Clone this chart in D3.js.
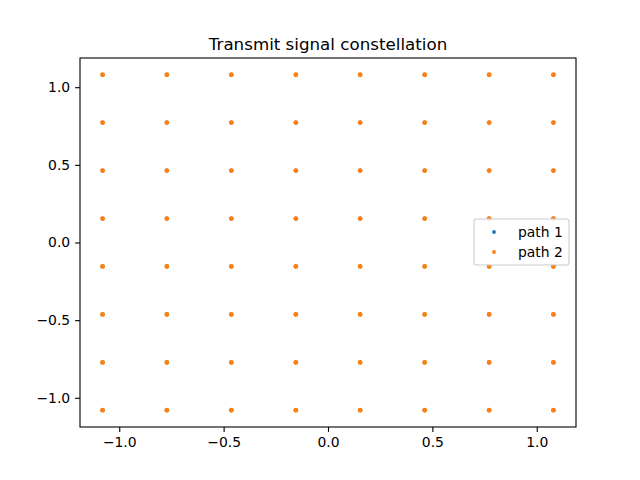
<!DOCTYPE html>
<html><head><meta charset="utf-8">
<script src="https://cdn.jsdelivr.net/npm/d3@7"></script>
<style>body{margin:0;background:#fff}svg{font-family:"DejaVu Sans",sans-serif}</style>
</head><body>
<script>
const title = "Transmit signal constellation";
const levels = [-1.080, -0.772, -0.463, -0.154, 0.154, 0.463, 0.772, 1.080];
const seriesNames = ["path 1", "path 2"];
const seriesColors = ["#1f77b4", "#ff7f0e"];
const xTicks = [-1.0, -0.5, 0.0, 0.5, 1.0];
const yTicks = [-1.0, -0.5, 0.0, 0.5, 1.0];
const points = [];
levels.forEach(i => levels.forEach(q => points.push([i, q])));
const series = seriesNames.map(() => points);

const W = 640, H = 480, m = {l: 80, r: 64, t: 58, b: 53};
const svg = d3.select("body").append("svg").attr("width", W).attr("height", H);
const x = d3.scaleLinear().domain([-1.188, 1.188]).range([m.l, W - m.r]);
const y = d3.scaleLinear().domain([-1.188, 1.188]).range([H - m.b, m.t]);
const fmt = d => d3.format(".1f")(d).replace("-", "\u2212");

series.forEach((pts, s) => {
  svg.append("g").selectAll("circle").data(pts).join("circle")
    .attr("cx", d => x(d[0])).attr("cy", d => y(d[1])).attr("r", s === 0 ? 2.1 : 2.4)
    .attr("fill", seriesColors[s]);
});

const xa = svg.append("g").attr("transform", `translate(0,${H - m.b})`)
  .call(d3.axisBottom(x).tickValues(xTicks).tickFormat(fmt).tickSize(4.9).tickPadding(4.9));
const ya = svg.append("g").attr("transform", `translate(${m.l},0)`)
  .call(d3.axisLeft(y).tickValues(yTicks).tickFormat(fmt).tickSize(4.9).tickPadding(4.9));
[xa, ya].forEach(a => {
  a.selectAll("text").attr("font-size", 13.9).attr("fill", "#000").style("font-family", "DejaVu Sans");
  a.selectAll("line").attr("stroke", "#000").attr("stroke-width", 1.1);
  a.select(".domain").remove();
});
svg.append("rect").attr("x", m.l).attr("y", m.t).attr("width", W - m.l - m.r).attr("height", H - m.t - m.b)
  .attr("fill", "none").attr("stroke", "#000").attr("stroke-width", 1.1);

svg.append("text").attr("x", (m.l + W - m.r) / 2).attr("y", m.t - 8.3).attr("text-anchor", "middle")
  .attr("font-size", 16.7).text(title);

const lg = svg.append("g").attr("transform", "translate(474,219)");
lg.append("rect").attr("width", 95).attr("height", 46).attr("rx", 2.5)
  .attr("fill", "#fff").attr("fill-opacity", 0.8).attr("stroke", "#ccc").attr("stroke-width", 1.1);
seriesNames.forEach((n, i) => {
  lg.append("circle").attr("cx", 20).attr("cy", 13 + i * 20).attr("r", 1.9).attr("fill", seriesColors[i]);
  lg.append("text").attr("x", 44).attr("y", 13 + i * 20).attr("dy", "0.35em").attr("font-size", 13.9).text(n);
});
</script>
</body></html>
